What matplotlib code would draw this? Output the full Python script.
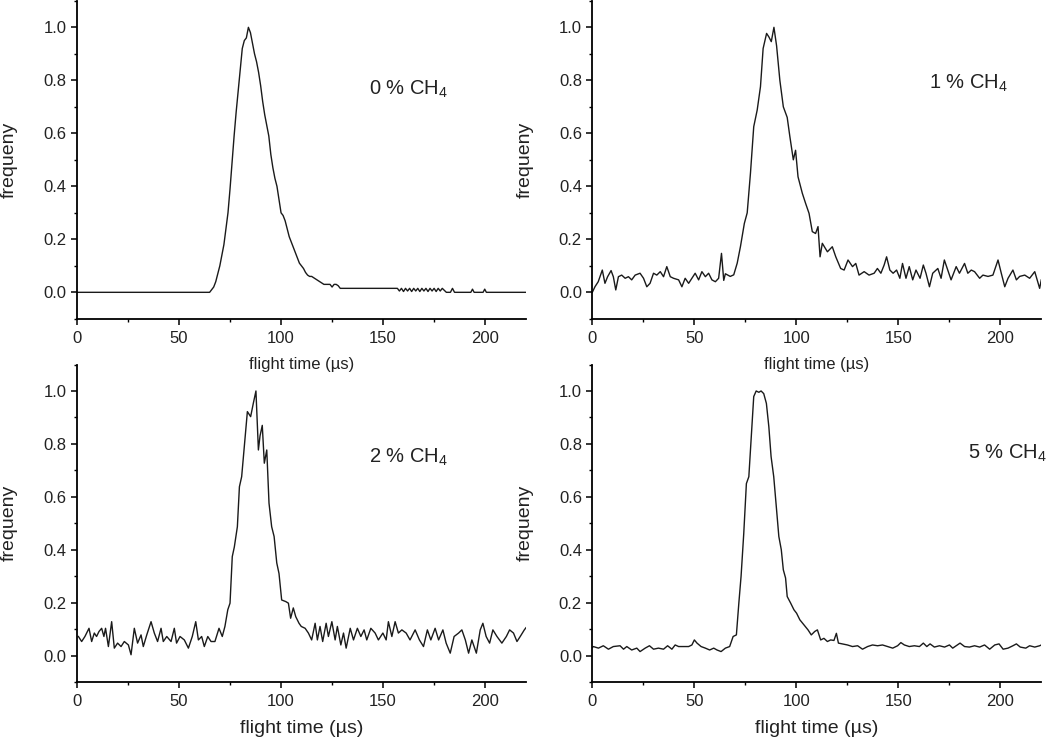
#!/usr/bin/env python3
"""Four-panel flight-time distributions for 0, 1, 2 and 5 % CH4."""

import matplotlib

matplotlib.use("Agg")
import matplotlib.pyplot as plt
from matplotlib.ticker import MultipleLocator

plt.rcParams["font.family"] = ["Liberation Sans", "DejaVu Sans"]
plt.rcParams["mathtext.fontset"] = "custom"
plt.rcParams["mathtext.rm"] = "Liberation Sans"

# values (time in us, normalised frequency)
t_0pct = [
    0, 64, 65, 66, 67, 68, 69, 70, 71, 72,
    73, 74, 75, 76, 77, 78, 79, 80, 81, 82,
    83, 84, 85, 86, 87, 88, 89, 90, 91, 92,
    93, 94, 95, 96, 97, 98, 99, 100, 101, 102,
    103, 104, 105, 106, 107, 108, 109, 110, 111, 112,
    113, 114, 115, 116, 117, 118, 119, 120, 121, 122,
    124, 125, 126, 127, 128, 129, 157, 158, 159, 160,
    161, 162, 163, 164, 165, 166, 167, 168, 169, 170,
    171, 172, 173, 174, 175, 176, 177, 178, 179, 181,
    183, 184, 185, 193, 193.8, 194.6, 199, 199.8, 200.6, 220,
]
y_0pct = [
    0.0, 0.0, 0.0, 0.01, 0.02, 0.04, 0.07, 0.10, 0.14, 0.18,
    0.24, 0.30, 0.39, 0.49, 0.59, 0.68, 0.76, 0.84, 0.92, 0.95,
    0.96, 1.00, 0.98, 0.94, 0.90, 0.87, 0.83, 0.78, 0.72, 0.67,
    0.63, 0.59, 0.52, 0.47, 0.43, 0.40, 0.35, 0.30, 0.29, 0.27,
    0.24, 0.21, 0.19, 0.17, 0.15, 0.13, 0.11, 0.10, 0.09, 0.075,
    0.065, 0.06, 0.06, 0.055, 0.05, 0.045, 0.04, 0.035, 0.03, 0.03,
    0.03, 0.02, 0.03, 0.03, 0.025, 0.015, 0.015, 0.005, 0.015, 0.003,
    0.015, 0.005, 0.015, 0.003, 0.015, 0.005, 0.015, 0.003, 0.015, 0.005,
    0.015, 0.003, 0.015, 0.005, 0.015, 0.003, 0.015, 0.005, 0.015, 0.0,
    0.0, 0.015, 0.0, 0.0, 0.012, 0.0, 0.0, 0.012, 0.0, 0.0,
]

t_1pct = [
    0, 1.3, 2.9, 4.9, 6.2, 7.5, 9.2, 10.3, 11.5, 12.8,
    14.4, 16.1, 17.7, 19.3, 21.0, 23.4, 25.1, 26.7, 28.3, 30.0,
    31.6, 33.3, 34.9, 36.5, 38.2, 39.8, 42.3, 43.9, 45.5, 47.2,
    48.8, 50.4, 52.1, 53.7, 55.4, 57.0, 58.6, 60.3, 61.9, 63.3,
    64.4, 65.2, 67.6, 69.3, 71.0, 72.6, 74.5, 75.9, 77.5, 79.1,
    80.8, 82.4, 83.7, 85.4, 86.5, 87.7, 89.0, 90.3, 91.9, 93.6,
    95.5, 96.8, 98.5, 99.6, 100.8, 102.9, 104.5, 106.2, 107.8, 109.4,
    110.6, 111.6, 112.7, 115.2, 117.6, 119.3, 121.7, 123.4, 125.3, 127.5,
    129.1, 130.7, 133.2, 135.6, 138.1, 139.7, 141.4, 143.0, 144.2, 145.8,
    147.4, 149.1, 150.7, 152.0, 153.7, 155.3, 157.0, 158.6, 160.6, 162.2,
    163.5, 165.2, 166.8, 169.3, 170.9, 172.5, 174.2, 175.8, 178.3, 179.9,
    182.4, 184.0, 185.7, 187.3, 189.8, 191.4, 193.9, 196.3, 198.8, 200.4,
    202.1, 203.7, 206.1, 207.8, 209.4, 211.9, 214.3, 216.8, 219.2, 220.0,
]
y_1pct = [
    0.0, 0.021, 0.040, 0.084, 0.034, 0.059, 0.082, 0.059, 0.009, 0.059,
    0.065, 0.053, 0.059, 0.047, 0.065, 0.072, 0.053, 0.021, 0.034, 0.072,
    0.065, 0.078, 0.059, 0.097, 0.059, 0.053, 0.047, 0.021, 0.053, 0.034,
    0.053, 0.072, 0.047, 0.078, 0.059, 0.072, 0.047, 0.040, 0.053, 0.147,
    0.045, 0.070, 0.060, 0.066, 0.11, 0.173, 0.26, 0.30, 0.45, 0.625,
    0.688, 0.776, 0.92, 0.977, 0.964, 0.946, 1.0, 0.93, 0.80, 0.70,
    0.66, 0.588, 0.50, 0.536, 0.436, 0.374, 0.336, 0.298, 0.229, 0.222,
    0.248, 0.134, 0.185, 0.153, 0.172, 0.134, 0.09, 0.084, 0.122, 0.097,
    0.109, 0.065, 0.078, 0.065, 0.072, 0.09, 0.072, 0.103, 0.134, 0.084,
    0.072, 0.084, 0.053, 0.109, 0.053, 0.097, 0.047, 0.084, 0.053, 0.103,
    0.072, 0.021, 0.072, 0.09, 0.053, 0.122, 0.084, 0.047, 0.097, 0.072,
    0.109, 0.072, 0.084, 0.078, 0.053, 0.065, 0.06, 0.065, 0.122, 0.072,
    0.021, 0.053, 0.084, 0.047, 0.06, 0.065, 0.053, 0.078, 0.015, 0.047,
]

t_2pct = [
    0.7, 2.3, 3.9, 5.9, 7.2, 8.5, 9.6, 10.8, 12.1, 13.2,
    14.0, 15.4, 17.0, 18.3, 19.9, 21.6, 23.2, 25.2, 26.5, 28.1,
    29.7, 31.4, 32.5, 34.2, 36.3, 37.9, 39.5, 41.2, 42.3, 44.0,
    46.1, 47.7, 48.8, 50.5, 52.6, 54.6, 56.5, 58.2, 59.5, 61.1,
    62.4, 64.1, 65.7, 67.6, 69.6, 71.2, 72.5, 73.9, 75.0, 76.1,
    77.1, 78.6, 79.6, 80.7, 82.0, 83.5, 85.1, 86.4, 87.7, 88.9,
    89.7, 90.8, 91.8, 93.0, 94.1, 95.4, 96.6, 97.9, 99.0, 100.3,
    102.3, 103.6, 104.7, 106.0, 107.2, 108.8, 109.9, 111.8, 113.4, 115.0,
    116.7, 117.8, 119.1, 120.4, 122.1, 123.2, 124.9, 126.5, 127.6, 129.3,
    130.6, 131.9, 133.9, 135.5, 137.4, 139.1, 140.7, 142.0, 144.0, 146.1,
    147.7, 149.9, 151.5, 152.6, 154.3, 155.9, 157.5, 159.2, 161.3, 163.2,
    165.7, 167.8, 169.8, 171.7, 173.4, 175.5, 177.2, 179.3, 180.9, 182.9,
    184.8, 187.0, 188.6, 190.3, 191.9, 193.5, 195.7, 197.6, 198.9, 200.5,
    202.2, 203.8, 205.8, 208.2, 210.4, 212.0, 213.9, 215.6, 217.2, 219.2,
    220.0,
]
y_2pct = [
    0.072, 0.053, 0.072, 0.103, 0.053, 0.085, 0.072, 0.091, 0.103, 0.072,
    0.103, 0.034, 0.128, 0.028, 0.047, 0.034, 0.053, 0.040, 0.003, 0.103,
    0.047, 0.078, 0.034, 0.078, 0.128, 0.085, 0.053, 0.103, 0.053, 0.072,
    0.053, 0.103, 0.047, 0.072, 0.059, 0.028, 0.072, 0.128, 0.059, 0.072,
    0.034, 0.072, 0.053, 0.053, 0.103, 0.072, 0.11, 0.173, 0.198, 0.374,
    0.41, 0.487, 0.638, 0.676, 0.79, 0.922, 0.903, 0.953, 1.0, 0.777,
    0.83, 0.87, 0.727, 0.777, 0.576, 0.487, 0.45, 0.35, 0.31, 0.21,
    0.204, 0.198, 0.141, 0.18, 0.147, 0.122, 0.11, 0.103, 0.085, 0.059,
    0.122, 0.059, 0.110, 0.053, 0.122, 0.072, 0.128, 0.059, 0.110, 0.040,
    0.085, 0.028, 0.103, 0.059, 0.103, 0.072, 0.097, 0.059, 0.103, 0.085,
    0.059, 0.085, 0.059, 0.128, 0.072, 0.128, 0.085, 0.097, 0.085, 0.059,
    0.097, 0.059, 0.034, 0.097, 0.059, 0.103, 0.059, 0.097, 0.047, 0.009,
    0.072, 0.085, 0.097, 0.059, 0.009, 0.059, 0.009, 0.097, 0.122, 0.072,
    0.047, 0.097, 0.072, 0.047, 0.072, 0.097, 0.085, 0.053, 0.072, 0.097,
    0.105,
]

t_5pct = [
    0.0, 0.5, 3.0, 5.4, 7.9, 10.3, 13.6, 15.3, 16.9, 19.3,
    21.8, 23.4, 25.9, 28.0, 30.0, 32.4, 34.9, 36.9, 39.0, 40.6,
    42.3, 44.7, 47.2, 48.8, 50.0, 51.3, 53.3, 55.4, 57.5, 59.5,
    61.1, 63.1, 65.2, 67.3, 69.0, 70.6, 71.8, 72.9, 74.2, 75.5,
    76.7, 77.8, 79.1, 80.3, 81.6, 82.7, 84.0, 85.3, 86.5, 87.6,
    88.9, 90.3, 91.4, 92.6, 93.6, 94.7, 95.5, 97.2, 98.8, 100.1,
    101.7, 103.7, 105.7, 107.3, 109.0, 110.3, 111.9, 113.5, 115.2, 116.8,
    118.4, 119.6, 120.6, 122.5, 125.0, 127.5, 130.0, 132.4, 134.9, 137.3,
    139.8, 142.2, 144.7, 147.2, 149.6, 151.2, 152.9, 155.3, 157.8, 160.3,
    162.2, 163.9, 165.5, 167.6, 170.1, 172.6, 175.0, 176.6, 178.3, 180.2,
    182.4, 184.8, 187.3, 189.8, 192.2, 194.7, 197.2, 199.3, 201.3, 203.7,
    206.1, 207.8, 209.7, 212.4, 214.3, 216.8, 219.2, 220.0,
]
y_5pct = [
    0.030, 0.034, 0.028, 0.037, 0.024, 0.034, 0.037, 0.024, 0.034, 0.021,
    0.028, 0.015, 0.028, 0.037, 0.024, 0.028, 0.024, 0.037, 0.024, 0.040,
    0.034, 0.034, 0.034, 0.040, 0.059, 0.047, 0.034, 0.028, 0.021, 0.028,
    0.021, 0.015, 0.028, 0.034, 0.072, 0.078, 0.198, 0.30, 0.46, 0.65,
    0.676, 0.815, 0.979, 1.0, 0.995, 1.0, 0.99, 0.953, 0.865, 0.752,
    0.676, 0.55, 0.45, 0.40, 0.324, 0.293, 0.223, 0.198, 0.173, 0.16,
    0.135, 0.116, 0.097, 0.078, 0.091, 0.097, 0.059, 0.065, 0.053, 0.059,
    0.057, 0.084, 0.047, 0.044, 0.040, 0.034, 0.037, 0.024, 0.034, 0.040,
    0.037, 0.040, 0.034, 0.028, 0.037, 0.049, 0.040, 0.034, 0.037, 0.034,
    0.047, 0.034, 0.044, 0.032, 0.037, 0.032, 0.040, 0.028, 0.037, 0.047,
    0.034, 0.032, 0.037, 0.032, 0.040, 0.024, 0.040, 0.044, 0.024, 0.028,
    0.037, 0.044, 0.032, 0.028, 0.037, 0.032, 0.037, 0.040,
]

# panel layout: (times, values, label, label anchor, xlabel size, axes rect)
PANELS = [
    (t_0pct, y_0pct, "0 % CH$_\\mathregular{4}$", (143, 0.765), 12, [0.0733, 0.5709, 0.4276, 0.428]),
    (t_1pct, y_1pct, "1 % CH$_\\mathregular{4}$", (165, 0.79), 12, [0.5641, 0.5709, 0.4276, 0.428]),
    (t_2pct, y_2pct, "2 % CH$_\\mathregular{4}$", (143, 0.75), 14, [0.0733, 0.0821, 0.4276, 0.4273]),
    (t_5pct, y_5pct, "5 % CH$_\\mathregular{4}$", (184, 0.763), 14, [0.5641, 0.0821, 0.4276, 0.4273]),
]

TEXT = "#222222"


def main() -> None:
    fig = plt.figure(figsize=(10.5, 7.43), dpi=100)

    for t, y, label, (lx, ly), xl_size, rect in PANELS:
        ax = fig.add_axes(rect)
        # transparent background so the upper x-labels are not hidden
        ax.patch.set_visible(False)
        ax.plot(t, y, color="#1a1a1a", lw=1.0)

        ax.set_xlim(0, 220)
        ax.set_ylim(-0.1, 1.1)
        ax.xaxis.set_major_locator(MultipleLocator(50))
        ax.xaxis.set_minor_locator(MultipleLocator(25))
        ax.yaxis.set_major_locator(MultipleLocator(0.2))
        ax.yaxis.set_minor_locator(MultipleLocator(0.1))
        ax.yaxis.set_major_formatter(plt.FormatStrFormatter("%.1f"))

        ax.tick_params(which="major", length=4, width=1.1, labelsize=12,
                       labelcolor=TEXT, pad=3.5)
        ax.tick_params(which="minor", length=2.5, width=1.0)
        ax.tick_params(axis="x", which="major", pad=5)

        for side in ("top", "right"):
            ax.spines[side].set_visible(False)
        for side in ("left", "bottom"):
            ax.spines[side].set_linewidth(1.3)

        ax.set_ylabel("frequeny", fontsize=14, color=TEXT)
        ax.yaxis.set_label_coords(-0.131, 0.5)
        ax.set_xlabel("flight time (µs)", fontsize=xl_size, color=TEXT)
        ax.xaxis.set_label_coords(0.5, -0.12)

        ax.text(lx, ly, label, fontsize=14.5, color=TEXT, va="center", ha="left")

    fig.savefig("out.png", dpi=100)


if __name__ == "__main__":
    main()
